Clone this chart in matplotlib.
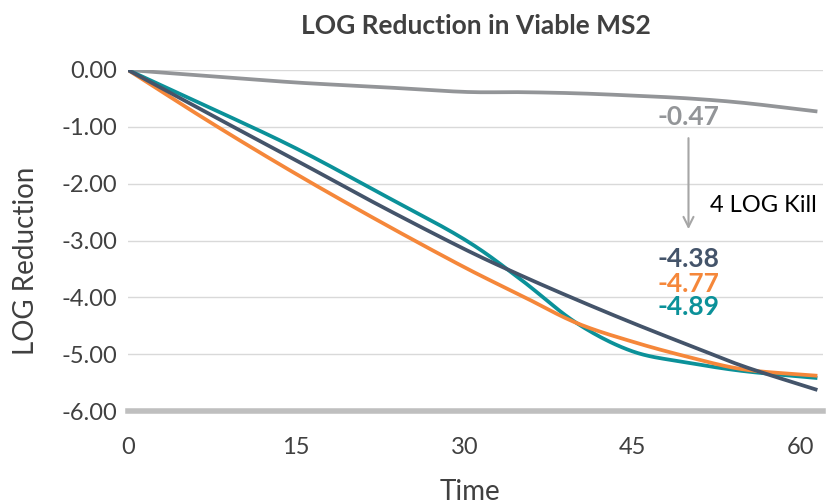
import numpy as np
import matplotlib
matplotlib.use('Agg')
import matplotlib.pyplot as plt

# Values
time = [0, 7.5, 15, 22.5, 30, 35, 40, 45, 50, 55, 61.5]
control = [0, -0.11, -0.22, -0.30, -0.385, -0.39, -0.41, -0.45, -0.50, -0.58, -0.73]
navy_series = [0, -0.80, -1.59, -2.39, -3.15, -3.61, -4.04, -4.45, -4.84, -5.22, -5.63]
orange_series = [0, -0.94, -1.83, -2.67, -3.47, -3.96, -4.45, -4.78, -5.05, -5.27, -5.38]
teal_series = [0, -0.68, -1.38, -2.17, -2.98, -3.68, -4.45, -4.95, -5.15, -5.30, -5.42]

x_ticks = [0, 15, 30, 45, 60]
y_ticks = [0, -1, -2, -3, -4, -5, -6]

labels = ['-4.38', '-4.77', '-4.89']
control_label = '-0.47'

GRAY = '#939598'
NAVY = '#44546a'
ORANGE = '#f5873a'
TEAL = '#0b9199'
TEXT = '#404040'

plt.rcParams['font.family'] = ['Lato', 'DejaVu Sans']


def smooth(xs, ys, n=20):
    """Catmull-Rom through the points, like spreadsheet smoothed lines"""
    pts = np.column_stack([xs, ys]).astype(float)
    pts = np.vstack([pts[0] - (pts[1] - pts[0]), pts, pts[-1] + (pts[-1] - pts[-2])])
    out = []
    for i in range(1, len(pts) - 2):
        p0, p1, p2, p3 = pts[i - 1], pts[i], pts[i + 1], pts[i + 2]
        t = np.linspace(0, 1, n, endpoint=False)[:, None]
        seg = 0.5 * ((2 * p1) + (-p0 + p2) * t +
                     (2 * p0 - 5 * p1 + 4 * p2 - p3) * t ** 2 +
                     (-p0 + 3 * p1 - 3 * p2 + p3) * t ** 3)
        out.append(seg)
    out.append(pts[-2][None, :])
    out = np.vstack(out)
    return out[:, 0], out[:, 1]


fig = plt.figure(figsize=(8.27, 5.04), dpi=100)
ax = fig.add_axes([128 / 827, 1 - 411 / 504, 695 / 827, 341 / 504])

for series, color in [(control, GRAY), (teal_series, TEAL),
                      (orange_series, ORANGE), (navy_series, NAVY)]:
    sx, sy = smooth(time, series)
    ax.plot(sx, sy, color=color, linewidth=2.7, solid_capstyle='butt', zorder=3)

ax.set_xlim(0, 62)
ax.set_ylim(-6, 0)
ax.set_xticks(x_ticks)
ax.set_yticks(y_ticks)
ax.set_yticklabels([f'{v:.2f}' for v in y_ticks])
ax.tick_params(axis='both', length=0, labelsize=17, colors=TEXT)
ax.tick_params(axis='x', pad=19)
ax.tick_params(axis='y', pad=8)

for v in y_ticks[:-1]:
    ax.axhline(v, color='#d9d9d9', linewidth=1.0, zorder=1)
for s in ['top', 'right', 'left']:
    ax.spines[s].set_visible(False)
ax.spines['bottom'].set_color('#bfbfbf')
ax.spines['bottom'].set_linewidth(4)
ax.spines['bottom'].set_position(('data', -6))

ax.set_title('LOG Reduction in Viable MS2', fontsize=19, fontweight='bold',
             color=TEXT, pad=26)
ax.set_ylabel('LOG Reduction', fontsize=20, color=TEXT)
ax.yaxis.set_label_coords(-0.128, 0.44)
ax.set_xlabel('Time', fontsize=20, color=TEXT, va='top')
ax.xaxis.set_label_coords(0.492, -0.20)

# annotations
ax.text(50.0, -0.82, control_label, color=GRAY, fontsize=19, fontweight='bold',
        ha='center', va='center')
ax.annotate('', xy=(50.0, -2.85), xytext=(50.0, -1.15),
            arrowprops=dict(arrowstyle='->', color='#a6a6a6', lw=1.5,
                            mutation_scale=18))
ax.text(51.9, -2.38, '4 LOG Kill', color='black', fontsize=17,
        ha='left', va='center')
for lab, color, yy in zip(labels, [NAVY, ORANGE, TEAL], [-3.33, -3.77, -4.17]):
    ax.text(50.0, yy, lab, color=color, fontsize=19, fontweight='bold',
            ha='center', va='center')

fig.savefig('out.png', dpi=100)
